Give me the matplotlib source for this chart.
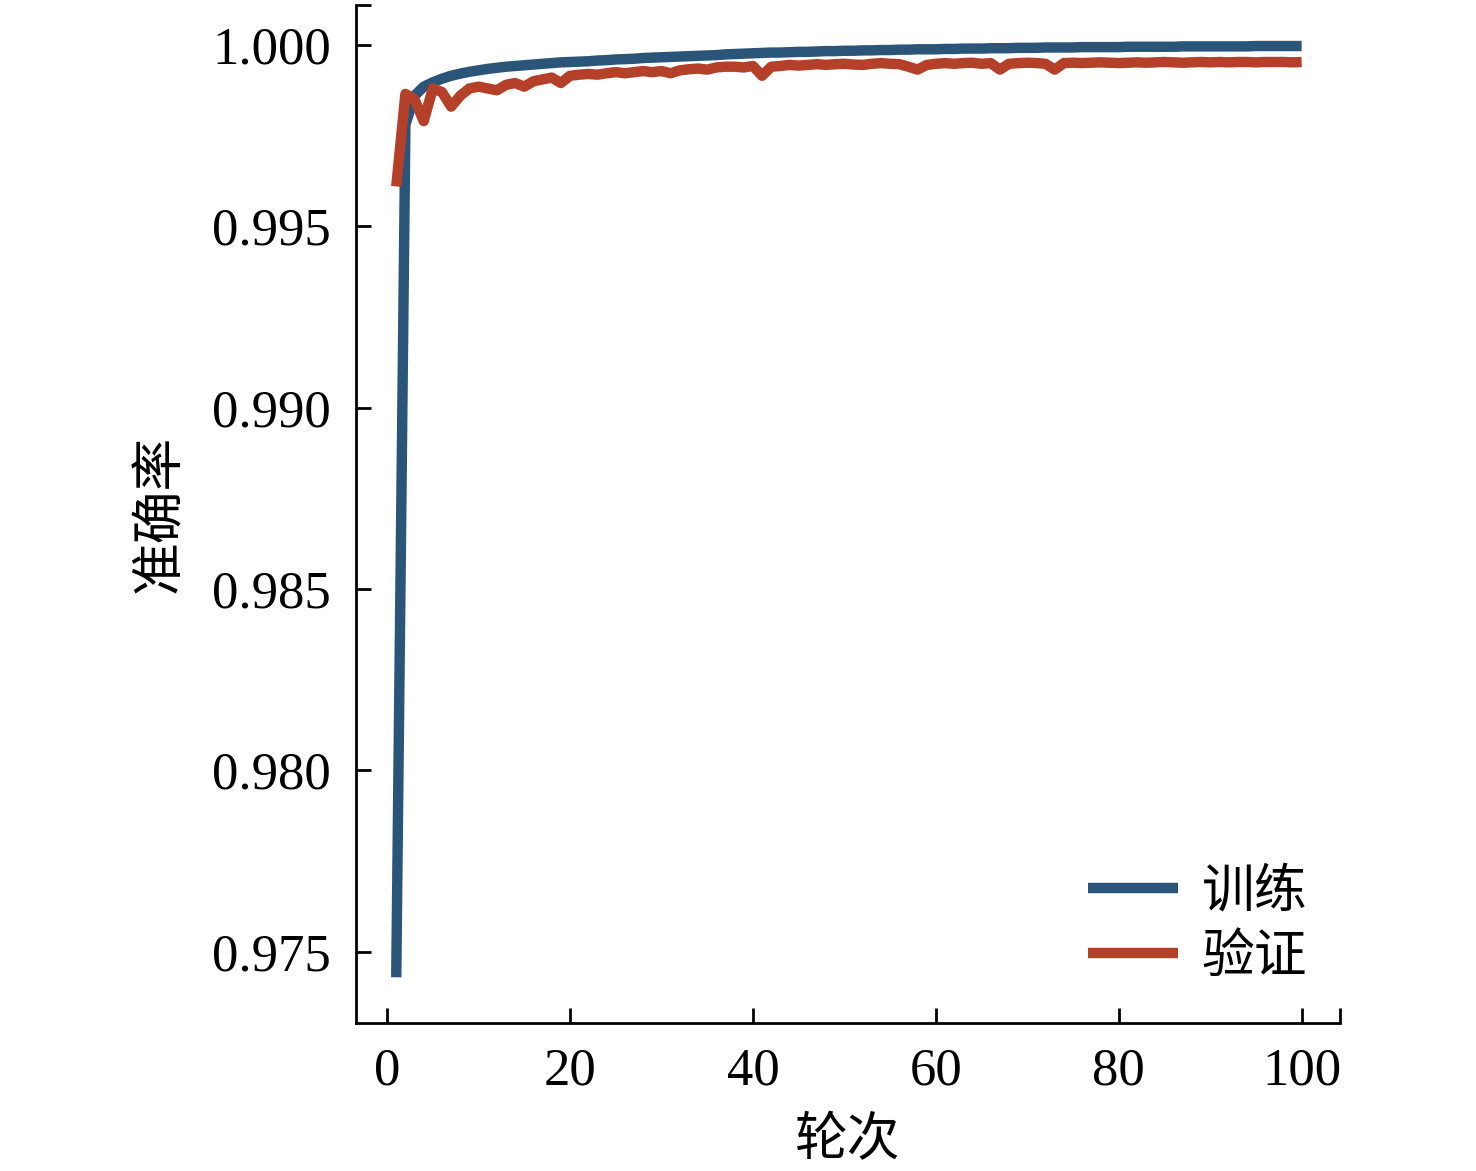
import matplotlib
matplotlib.use('Agg')
import matplotlib.pyplot as plt

plt.rcParams['font.family'] = ['Liberation Serif', 'Noto Sans CJK SC']
plt.rcParams['font.size'] = 38

# epochs 1..100
epochs = list(range(1, 101))

train_acc = [
    0.97430, 0.99780, 0.99860, 0.99885, 0.99897, 0.99907, 0.99915, 0.99921, 0.99926, 0.99930,
    0.99934, 0.99937, 0.99940, 0.99942, 0.99944, 0.99946, 0.99948, 0.99950, 0.99952, 0.99953,
    0.99954, 0.99955, 0.99957, 0.99958, 0.99960, 0.99961, 0.99962, 0.99964, 0.99965, 0.99966,
    0.99967, 0.99968, 0.99969, 0.99970, 0.99971, 0.99972, 0.99974, 0.99975, 0.99976, 0.99977,
    0.99978, 0.99979, 0.99979, 0.99980, 0.99981, 0.99981, 0.99982, 0.99983, 0.99983, 0.99984,
    0.99984, 0.99985, 0.99985, 0.99986, 0.99986, 0.99987, 0.99987, 0.99988, 0.99988, 0.99988,
    0.99989, 0.99989, 0.99990, 0.99990, 0.99990, 0.99991, 0.99991, 0.99991, 0.99992, 0.99992,
    0.99992, 0.99993, 0.99993, 0.99993, 0.99993, 0.99994, 0.99994, 0.99994, 0.99994, 0.99994,
    0.99995, 0.99995, 0.99995, 0.99995, 0.99995, 0.99995, 0.99996, 0.99996, 0.99996, 0.99996,
    0.99996, 0.99996, 0.99996, 0.99996, 0.99997, 0.99997, 0.99997, 0.99997, 0.99997, 0.99997,
]

val_acc = [
    0.99610, 0.99865, 0.99850, 0.99790, 0.99880, 0.99870, 0.99830, 0.99860, 0.99880, 0.99885,
    0.99880, 0.99875, 0.99890, 0.99895, 0.99885, 0.99900, 0.99905, 0.99910, 0.99895, 0.99915,
    0.99918, 0.99920, 0.99918, 0.99922, 0.99925, 0.99922, 0.99925, 0.99928, 0.99925, 0.99928,
    0.99922, 0.99930, 0.99933, 0.99935, 0.99932, 0.99938, 0.99940, 0.99940, 0.99938, 0.99942,
    0.99915, 0.99940, 0.99942, 0.99945, 0.99943, 0.99945, 0.99947, 0.99945, 0.99947, 0.99948,
    0.99946, 0.99945, 0.99948, 0.99950, 0.99948, 0.99947, 0.99940, 0.99932, 0.99945, 0.99948,
    0.99950, 0.99948, 0.99950, 0.99951, 0.99948, 0.99950, 0.99932, 0.99948, 0.99950, 0.99951,
    0.99950, 0.99948, 0.99932, 0.99950, 0.99951, 0.99950, 0.99951, 0.99952, 0.99951, 0.99950,
    0.99951, 0.99952, 0.99951, 0.99952, 0.99953, 0.99952, 0.99951, 0.99952, 0.99953, 0.99952,
    0.99953, 0.99952, 0.99953, 0.99953, 0.99952, 0.99953, 0.99953, 0.99953, 0.99952, 0.99953,
]

xticks = [0, 20, 40, 60, 80, 100]
yticks = [0.975, 0.980, 0.985, 0.990, 0.995, 1.000]
xlim = [-3.4, 104.2]
ylim = [0.97304, 1.0011]

fig = plt.figure(figsize=(14.76, 11.71), dpi=100)
ax = fig.add_axes([0.2412, 0.1264, 0.6667, 0.8693])

ax.plot(epochs, train_acc, color='#2b5479', lw=7.5, solid_capstyle='butt', label='训练')
ax.plot(epochs, val_acc, color='#b5402a', lw=7.5, solid_capstyle='butt', label='验证')

ax.set_xlim(xlim)
ax.set_ylim(ylim)
ax.set_xticks(xticks)
ax.set_yticks(yticks)
ax.set_yticklabels(['%.3f' % v for v in yticks])
# small end marks at the spine ends
ax.set_xticks([xlim[1]], minor=True)
ax.set_yticks([ylim[1]], minor=True)
ax.tick_params(which='both', direction='in', length=11, width=2, pad=18)

for s in ['top', 'right']:
    ax.spines[s].set_visible(False)
for s in ['left', 'bottom']:
    ax.spines[s].set_linewidth(2)

ax.set_xlabel('轮次', labelpad=15)
ax.set_ylabel('准确率', labelpad=19)

ax.legend(loc='lower right', frameon=False, handlelength=1.7, handletextpad=0.45,
          labelspacing=0.3, bbox_to_anchor=(1.015, -0.007))

plt.savefig('out.png', dpi=100)
